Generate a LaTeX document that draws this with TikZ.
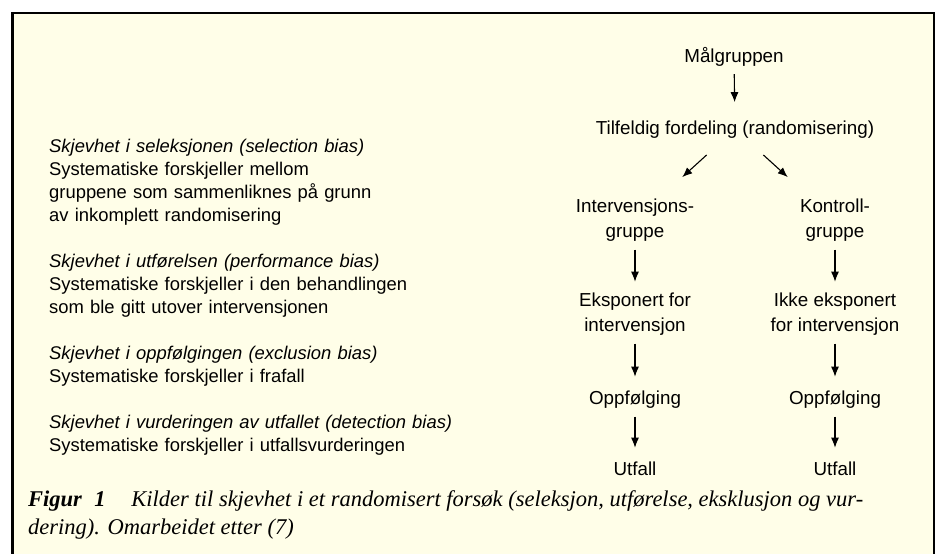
\documentclass[tikz,border=0pt]{standalone}
\usepackage{fontspec}
\setmainfont{Liberation Sans}
\newfontfamily\capfont{Liberation Serif}
\usetikzlibrary{arrows.meta}
\definecolor{paper}{RGB}{255,254,232}

\begin{document}
\begin{tikzpicture}[x=1pt, y=-1pt,
  bias/.style={anchor=base west, inner sep=0pt, text width=430pt, align=left, font=\fontsize{18.4}{23}\selectfont},
  group/.style={anchor=base, inner sep=0pt, align=center, font=\fontsize{18.8}{25}\selectfont},
  flow/.style={-{Latex[length=10pt,width=8pt]}, line width=1.1pt, shorten <=8pt, shorten >=14pt},
  split/.style={flow, shorten <=25pt, shorten >=32pt}]

\useasboundingbox (0,0) rectangle (938,554);
\fill[paper] (12.5,13) rectangle (934,570);
\draw[line width=2.5pt] (12.5,570) -- (12.5,13) -- (934,13) -- (934,570);

\node[bias] (sel) at (49,152) {\textit{Skjevhet i seleksjonen (selection bias)}\\ Systematiske forskjeller mellom\\ gruppene som sammenliknes på grunn\\ av inkomplett randomisering};
\node[bias] (perf) at (49,267) {\textit{Skjevhet i utførelsen (performance bias)}\\ Systematiske forskjeller i den behandlingen\\ som ble gitt utover intervensjonen};
\node[bias] (excl) at (49,359) {\textit{Skjevhet i oppfølgingen (exclusion bias)}\\ Systematiske forskjeller i frafall};
\node[bias] (det) at (49,428) {\textit{Skjevhet i vurderingen av utfallet (detection bias)}\\ Systematiske forskjeller i utfallsvurderingen};

\node[group] (mal) at (734,62) {Målgruppen};
\node[group] (rand) at (735,134) {Tilfeldig fordeling (randomisering)};

% two-line nodes sit on the baseline of their last line
\node[group] (int) at (635,237.5) {Intervensjons-\\ gruppe};
\node[group] (int2) at (635,331.5) {Eksponert for\\ intervensjon};
\node[group] (int3) at (635,404.5) {Oppfølging};
\node[group] (int4) at (635,475.5) {Utfall};

\node[group] (kon) at (835,237.5) {Kontroll-\\ gruppe};
\node[group] (kon2) at (835,331.5) {Ikke eksponert\\ for intervensjon};
\node[group] (kon3) at (835,404.5) {Oppfølging};
\node[group] (kon4) at (835,475.5) {Utfall};

\draw[flow, shorten >=18pt] (mal) -- (rand);
\draw[split] (rand) -- (int);
\draw[split] (rand) -- (kon);
\draw[flow, shorten >=11pt] (int) -- (int2);
\draw[flow] (int2) -- (int3);
\draw[flow] (int3) -- (int4);
\draw[flow, shorten >=11pt] (kon) -- (kon2);
\draw[flow] (kon2) -- (kon3);
\draw[flow] (kon3) -- (kon4);

\node[anchor=base west, inner sep=0pt, align=left, font=\capfont\fontsize{22.5}{28}\selectfont\itshape] (cap) at (28,534) {\textbf{Figur\hspace{0.55em}1}\hspace{1.15em}Kilder til skjevhet i et randomisert forsøk (seleksjon, utførelse, eksklusjon og vur-\\ dering). Omarbeidet etter (7)};
%\node[anchor=base west] (cap2) at (28,534) {dering). Omarbeidet etter (7)};

\end{tikzpicture}
\end{document}
